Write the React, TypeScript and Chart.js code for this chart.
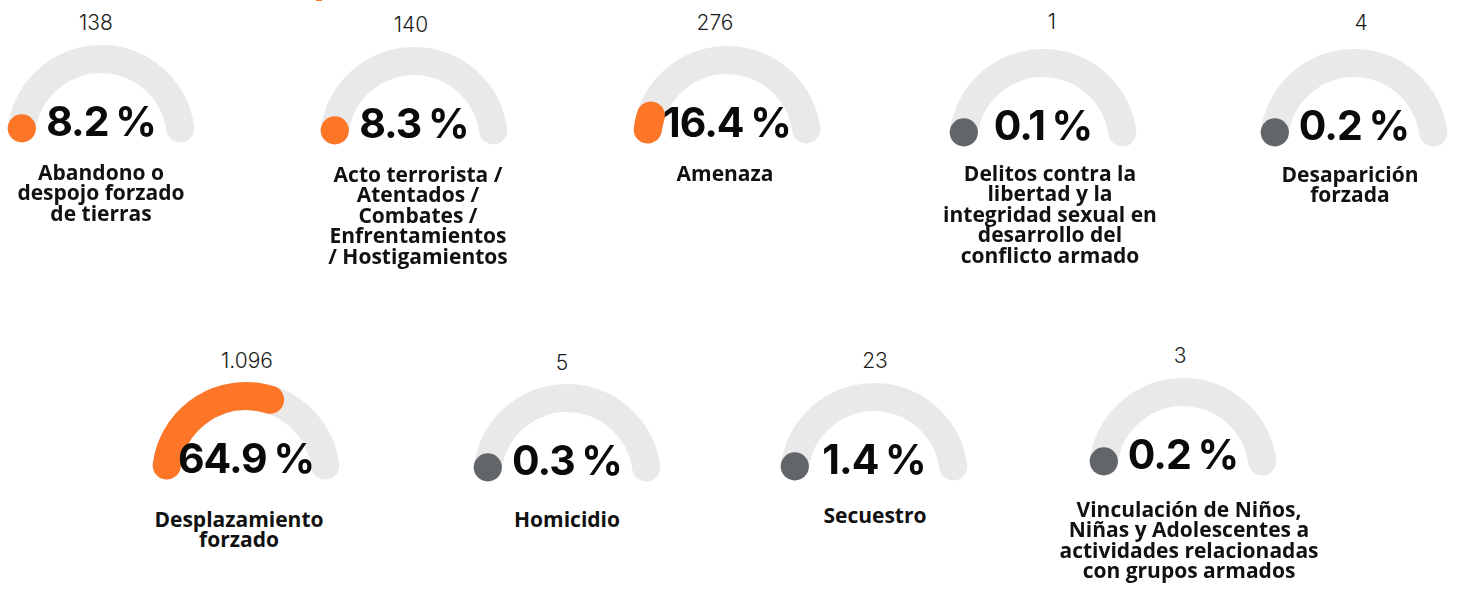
import React, { useEffect, useRef } from 'react';
import { Chart, DoughnutController, ArcElement } from 'chart.js';

Chart.register(DoughnutController, ArcElement);

// ---------- data ----------
const categories: string[] = [
  'Abandono o\ndespojo forzado\nde tierras',
  'Acto terrorista /\nAtentados /\nCombates /\nEnfrentamientos\n/ Hostigamientos',
  'Amenaza',
  'Delitos contra la\nlibertad y la\nintegridad sexual en\ndesarrollo del\nconflicto armado',
  'Desaparición\nforzada',
  'Desplazamiento\nforzado',
  'Homicidio',
  'Secuestro',
  'Vinculación de Niños,\nNiñas y Adolescentes a\nactividades relacionadas\ncon grupos armados',
];
const victimCounts: number[] = [138, 140, 276, 1, 4, 1096, 5, 23, 3];
const percentages: number[] = [8.2, 8.3, 16.4, 0.1, 0.2, 64.9, 0.3, 1.4, 0.2];
const gaugeMax = 100;
const highlightThreshold = 5;

// ---------- styles / layout ----------
const ORANGE = '#FD7628';
const DARK = '#626569';
const TRACK = '#E9E9E9';

// per cell: gauge centre, count position, label position (page px)
const cellLayout = [
  { cx: 101, cy: 139, countX: 96, countBase: 30, labelX: 101, labelBase: 180 },
  { cx: 414, cy: 141, countX: 411, countBase: 32, labelX: 418, labelBase: 182 },
  { cx: 727, cy: 140, countX: 715, countBase: 30, labelX: 725, labelBase: 181 },
  { cx: 1043, cy: 143, countX: 1052, countBase: 29, labelX: 1050, labelBase: 181 },
  { cx: 1354, cy: 143, countX: 1361, countBase: 30, labelX: 1350, labelBase: 182 },
  { cx: 246, cy: 476, countX: 247, countBase: 368, labelX: 239, labelBase: 527 },
  { cx: 567, cy: 478, countX: 562, countBase: 370, labelX: 567, labelBase: 527 },
  { cx: 874, cy: 477, countX: 875, countBase: 368, labelX: 875, labelBase: 523 },
  { cx: 1183, cy: 472, countX: 1180, countBase: 363, labelX: 1189, labelBase: 517 },
];

const CANVAS_W = 200;
const CANVAS_H = 110;

const formatCount = (n: number) => String(n).replace(/\B(?=(\d{3})+(?!\d))/g, '.');
const formatPct = (p: number) => p.toFixed(1) + ' %';

// Draws the track and the value arc with round caps, using the arc geometry Chart.js computed.
const gaugeArcs = {
  id: 'gaugeArcs',
  afterDatasetsDraw(chart: any, _args: any, opts: any) {
    const meta = chart.getDatasetMeta(0);
    const valueArc: any = meta.data[0];
    const restArc: any = meta.data[1];
    if (!valueArc || !restArc) return;
    const { x, y, startAngle, endAngle, innerRadius, outerRadius } = valueArc;
    const trackEnd = restArc.endAngle;
    const r = (innerRadius + outerRadius) / 2;
    const w = outerRadius - innerRadius;
    const cap = w / 2 / r;
    const ctx: CanvasRenderingContext2D = chart.ctx;
    ctx.save();
    ctx.lineWidth = w;
    ctx.lineCap = 'round';
    ctx.strokeStyle = opts.trackColor;
    ctx.beginPath();
    ctx.arc(x, y, r, startAngle + cap, trackEnd - cap);
    ctx.stroke();
    const a0 = startAngle + cap;
    const a1 = endAngle - cap;
    if (a1 - a0 > 0.01) {
      ctx.strokeStyle = opts.valueColor;
      ctx.beginPath();
      ctx.arc(x, y, r, a0, a1);
      ctx.stroke();
    } else {
      ctx.fillStyle = opts.valueColor;
      ctx.beginPath();
      ctx.arc(x + r * Math.cos(a0), y + r * Math.sin(a0), w / 2, 0, Math.PI * 2);
      ctx.fill();
    }
    ctx.restore();
  },
};

function Gauge({ value, color, left, top }: { value: number; color: string; left: number; top: number }) {
  const ref = useRef<HTMLCanvasElement>(null);
  useEffect(() => {
    if (!ref.current) return;
    const chart = new Chart(ref.current, {
      type: 'doughnut',
      data: {
        datasets: [
          {
            data: [value, gaugeMax - value],
            backgroundColor: ['rgba(0,0,0,0)', 'rgba(0,0,0,0)'],
            borderWidth: 0,
          },
        ],
      },
      options: {
        responsive: false,
        animation: false,
        events: [],
        rotation: -92.5,
        circumference: 185,
        radius: 94,
        cutout: '70%',
        layout: { padding: 0 },
        plugins: {
          legend: { display: false },
          tooltip: { enabled: false },
          gaugeArcs: { valueColor: color, trackColor: TRACK },
        } as any,
      } as any,
      plugins: [gaugeArcs as any],
    });
    return () => chart.destroy();
  }, [value, color]);
  return (
    <canvas
      ref={ref}
      width={CANVAS_W}
      height={CANVAS_H}
      style={{ position: 'absolute', left, top, width: CANVAS_W, height: CANVAS_H }}
    />
  );
}

export default function App() {
  return (
    <div
      style={{
        position: 'fixed',
        left: 0,
        top: 0,
        width: 1458,
        height: 589,
        overflow: 'hidden',
        background: '#ffffff',
      }}
    >
      <span
        style={{
          position: 'absolute',
          left: 313,
          top: -43,
          font: '700 40px "Open Sans"',
          lineHeight: '40px',
          color: ORANGE,
          whiteSpace: 'nowrap',
        }}
      >
        p
      </span>
      {categories.map((cat, i) => {
        const L = cellLayout[i];
        const pct = percentages[i];
        const color = pct >= highlightThreshold ? ORANGE : DARK;
        return (
          <React.Fragment key={i}>
            <div
              style={{
                position: 'absolute',
                left: L.countX - 60,
                top: L.countBase - 18.1,
                width: 120,
                textAlign: 'center',
                font: '300 21px Inter',
                lineHeight: '21px',
                color: '#1c1c1c',
              }}
            >
              {formatCount(victimCounts[i])}
            </div>
            <Gauge value={pct} color={color} left={L.cx - CANVAS_W / 2} top={L.cy - 100} />
            <div
              style={{
                position: 'absolute',
                left: L.cx - 100,
                top: L.cy - 3 - 35.4,
                width: 200,
                textAlign: 'center',
                font: '700 41px Inter',
                lineHeight: '41px',
                letterSpacing: '-1px',
                wordSpacing: '-2px',
                color: '#0a0a0a',
                whiteSpace: 'nowrap',
              }}
            >
              {formatPct(pct)}
            </div>
            <div
              style={{
                position: 'absolute',
                left: L.labelX - 150,
                top: L.labelBase - 18.5,
                width: 300,
                textAlign: 'center',
                font: '700 21px "Open Sans"',
                lineHeight: '20.5px',
                color: '#111111',
                whiteSpace: 'pre-line',
              }}
            >
              {cat}
            </div>
          </React.Fragment>
        );
      })}
    </div>
  );
}
